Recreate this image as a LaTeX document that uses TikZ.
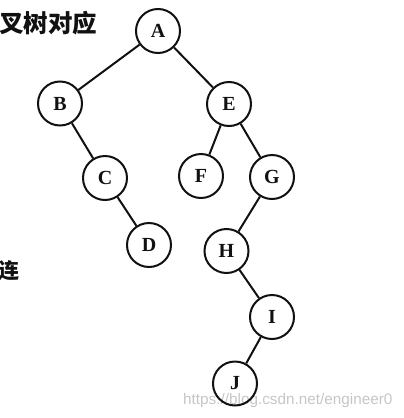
\documentclass[tikz,border=0pt]{standalone}
\usepackage{fontspec}
\usepackage{xcolor}
\setmainfont{Liberation Serif}
\newfontfamily\cjkfont{Noto Sans CJK SC}
\newfontfamily\markfont{Liberation Sans}
\definecolor{inkblack}{HTML}{111111}
\definecolor{marklight}{HTML}{C6C6C6}

\begin{document}
\begin{tikzpicture}[x=10pt,y=-10pt,
  vertex/.style={circle,draw=inkblack,line width=2pt,minimum size=44pt,inner sep=0pt,
    font=\fontsize{20}{20}\selectfont\bfseries,text=inkblack},
  branch/.style={draw=inkblack,line width=2pt}]
% page = 404 x 418 px, one unit = 10 px, y runs downwards
\useasboundingbox (0,0) rectangle (40.4,41.8);
\clip (0,0) rectangle (40.4,41.8);

% cut-off words of the surrounding page text
\node[font=\cjkfont\bfseries\fontsize{24.5}{24.5}\selectfont,text=inkblack,anchor=west,inner sep=0pt] (head) at (-0.1,2.35) {叉树对应};
\node[font=\cjkfont\bfseries\fontsize{21}{21}\selectfont,text=inkblack,inner sep=0pt] (tail) at (0.9,27.1) {连};

% watermark, under the tree
\node[font=\markfont\fontsize{15.3}{15.3}\selectfont,text=marklight,anchor=base west,inner sep=0pt] (mark) at (18.3,40.4) {https://blog.csdn.net/engineer0};

% tree nodes
\node[vertex] (A) at (15.8,3.1) {A};
\node[vertex] (B) at (6.0,10.35) {B};
\node[vertex] (E) at (22.9,10.4) {E};
\node[vertex] (C) at (10.5,17.8) {C};
\node[vertex] (F) at (20.1,17.6) {F};
\node[vertex] (G) at (27.2,17.7) {G};
\node[vertex] (D) at (14.9,24.5) {D};
\node[vertex] (H) at (22.65,25.1) {H};
\node[vertex] (I) at (27.2,31.7) {I};
\node[vertex] (J) at (23.5,38.35) {J};

% branches
\draw[branch] (A) -- (B);
\draw[branch] (A) -- (E);
\draw[branch] (B) -- (C);
\draw[branch] (C) -- (D);
\draw[branch] (E) -- (F);
\draw[branch] (E) -- (G);
\draw[branch] (G) -- (H);
\draw[branch] (H) -- (I);
\draw[branch] (I) -- (J);
\end{tikzpicture}
\end{document}
